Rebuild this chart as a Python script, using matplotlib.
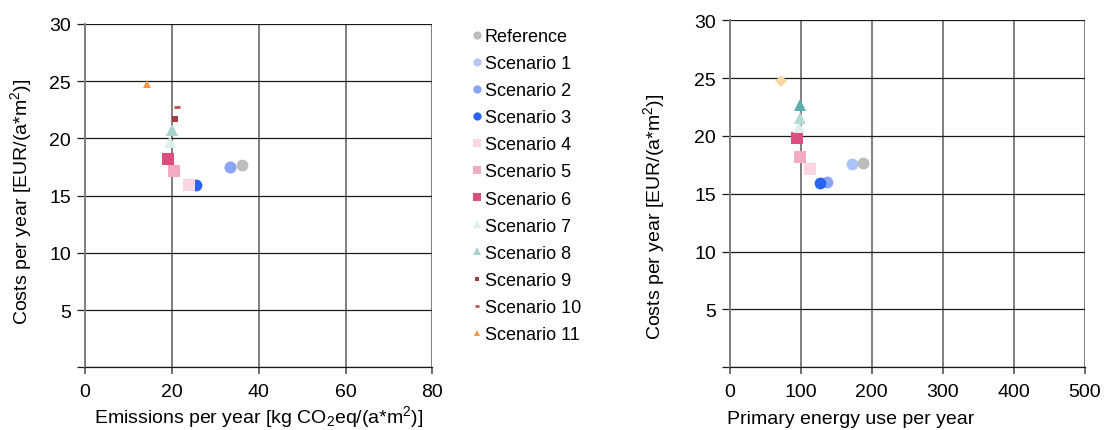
import matplotlib
matplotlib.use('Agg')
import matplotlib.pyplot as plt

plt.rcParams['font.family'] = ['Liberation Sans', 'DejaVu Sans']
plt.rcParams['mathtext.fontset'] = 'custom'
plt.rcParams['mathtext.rm'] = 'Liberation Sans'

# left chart: emissions vs costs
scenarios = ['Reference', 'Scenario 1', 'Scenario 2', 'Scenario 3', 'Scenario 4',
             'Scenario 5', 'Scenario 6', 'Scenario 7', 'Scenario 8', 'Scenario 9',
             'Scenario 10', 'Scenario 11']
emissions = [36.2, 33.3, 33.4, 25.6, 24.0, 20.6, 19.2, 19.6, 20.1, 20.8, 21.2, 14.3]
costs = [17.68, 17.52, 17.54, 15.96, 15.96, 17.13, 18.18, 19.67, 20.77, 21.7, 22.78, 24.76]
colors = ['#BDBDBD', '#B4C7F7', '#8AA4FA', '#2B63F6', '#FBD5E0', '#F2ABC0',
          '#DD4E7E', '#DDEEEC', '#A8D4D0', '#A0403E', '#C0504D', '#F79646']
markers = ['o', 'o', 'o', 'o', 's', 's', 's', '^', '^', 's', '_', '^']
sizes = [8.5, 8.5, 8.5, 8.5, 8, 8, 8, 9, 9, 5, 4, 6]

# right chart: primary energy vs costs
energy = [187.3, 172.7, 136.6, 127.6, 113.0, 99.4, 94.8, 97.0, 99.4, 99.4, 72.7]
energy_costs = [17.69, 17.57, 16.0, 15.93, 17.11, 18.15, 19.79, 20.74, 21.55, 22.67, 24.75]
energy_colors = ['#BDBDBD', '#A9C4F7', '#8AA4FA', '#2B63F6', '#FBD5E0', '#F2ABC0',
                 '#DD4E7E', '#DDEEEC', '#B3D9D5', '#5AAFAE', '#FDD6A8']
energy_markers = ['o', 'o', 'o', 'o', 's', 's', 's', '^', '^', '^', 'D']
energy_sizes = [8.5, 8.5, 8.5, 8.5, 8, 8, 8, 9, 9, 9, 6.5]

yticks = [0, 5, 10, 15, 20, 25, 30]
ytick_labels = ['', '5', '10', '15', '20', '25', '30']
ylabel = r'Costs per year [EUR/(a*m$\mathregular{^2}$)]'


def style_axes(ax):
    ax.set_ylim(0, 30)
    ax.set_yticks(yticks)
    ax.set_yticklabels(ytick_labels)
    ax.grid(axis='x', color='#7F7F7F', lw=1.4)
    ax.grid(axis='y', color='#1A1A1A', lw=0.9)
    ax.set_axisbelow(True)
    for s in ['top', 'right']:
        ax.spines[s].set_visible(False)
    ax.spines['left'].set_color('#7F7F7F')
    ax.spines['left'].set_linewidth(1.4)
    ax.spines['bottom'].set_color('#1A1A1A')
    ax.spines['bottom'].set_linewidth(0.9)
    ax.tick_params(axis='y', length=6, width=0.9, color='#1A1A1A', labelsize=14, pad=4)
    ax.tick_params(axis='x', length=5, width=1.2, color='#555555', labelsize=14, pad=6)


fig = plt.figure(figsize=(11.06, 4.31), dpi=100)
ax1 = fig.add_axes([0.0769, 0.1455, 0.314, 0.7965])
ax2 = fig.add_axes([0.6598, 0.1455, 0.321, 0.805])

for i in range(len(scenarios)):
    mew = 2 if markers[i] == '_' else 0
    ax1.plot([emissions[i]], [costs[i]], linestyle='none', marker=markers[i],
             ms=sizes[i], color=colors[i], mec=colors[i], mew=mew,
             label=scenarios[i], clip_on=False)
ax1.set_xlim(0, 80)
ax1.set_xticks([0, 20, 40, 60, 80])
style_axes(ax1)
ax1.set_xlabel(r'Emissions per year [kg CO$\mathregular{_2}$eq/(a*m$\mathregular{^2}$)]', fontsize=14)
ax1.xaxis.set_label_coords(0.5, -0.105)
ax1.set_ylabel(ylabel, fontsize=14)
ax1.yaxis.set_label_coords(-0.147, 0.484)

for i in range(len(energy)):
    ax2.plot([energy[i]], [energy_costs[i]], linestyle='none', marker=energy_markers[i],
             ms=energy_sizes[i], color=energy_colors[i], mew=0, clip_on=False)
ax2.set_xlim(0, 500)
ax2.set_xticks([0, 100, 200, 300, 400, 500])
style_axes(ax2)
ax2.set_xlabel('Primary energy use per year', fontsize=14, ha='left')
ax2.xaxis.set_label_coords(-0.008, -0.123)
ax2.set_ylabel(ylabel, fontsize=14)
ax2.yaxis.set_label_coords(-0.176, 0.437)

ax1.legend(loc='upper left', bbox_to_anchor=(0.426, 0.933), bbox_transform=fig.transFigure,
           frameon=False, fontsize=13, markerscale=0.7, handlelength=0.6,
           handletextpad=0.15, labelspacing=0.56, borderaxespad=0, borderpad=0)

fig.savefig('out.png', dpi=100)
